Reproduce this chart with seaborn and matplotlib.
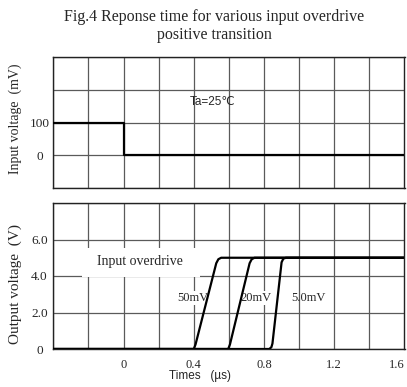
import matplotlib
matplotlib.use("Agg")
import matplotlib.pyplot as plt
from matplotlib.patches import Rectangle
import seaborn as sns
import pandas as pd

# ---- data ----
input_t = [-0.4, 0.0, 0.0, 1.6]
input_mv = [100, 100, 0, 0]

t_50mv = [-0.4, 0.400, 0.410, 0.528, 0.540, 0.556, 0.585, 1.6]
v_50mv = [0.0, 0.0, 0.25, 4.70, 4.92, 5.0, 5.0, 5.0]
t_20mv = [-0.4, 0.596, 0.606, 0.718, 0.730, 0.746, 0.775, 1.6]
v_20mv = [0.0, 0.0, 0.25, 4.70, 4.92, 5.0, 5.0, 5.0]
t_5mv = [-0.4, 0.830, 0.842, 0.848, 0.900, 0.910, 0.925, 0.950, 1.6]
v_5mv = [0.0, 0.0, 0.10, 0.30, 4.75, 4.95, 5.0, 5.0, 5.0]

x_ticks = [0, 0.4, 0.8, 1.2, 1.6]
x_tick_labels = ["0", "0.4", "0.8", "1.2", "1.6"]
x_grid = [-0.4, -0.2, 0, 0.2, 0.4, 0.6, 0.8, 1.0, 1.2, 1.4, 1.6]
in_ticks = [0, 100]
in_tick_labels = ["0", "100"]
in_grid = [-100, 0, 100, 200, 300]
out_ticks = [0, 2, 4, 6]
out_tick_labels = ["0", "2.0", "4.0", "6.0"]
out_grid = [0, 2, 4, 6, 8]

overdrive_labels = ["50mV", "20mV", "5.0mV"]

df_in = pd.DataFrame({"t": input_t, "v": input_mv})
df_out = pd.concat([
    pd.DataFrame({"t": t_50mv, "v": v_50mv, "od": overdrive_labels[0]}),
    pd.DataFrame({"t": t_20mv, "v": v_20mv, "od": overdrive_labels[1]}),
    pd.DataFrame({"t": t_5mv, "v": v_5mv, "od": overdrive_labels[2]}),
], ignore_index=True)

sns.set_theme(style="white")
plt.rcParams["font.family"] = ["Liberation Serif", "DejaVu Serif"]
plt.rcParams["axes.unicode_minus"] = False

W, H = 407, 387
fig = plt.figure(figsize=(W / 100, H / 100), dpi=100)

def frac(l, t, r, b):
    return [l / W, (H - b) / H, (r - l) / W, (b - t) / H]

ax1 = fig.add_axes(frac(53.3, 57, 404.5, 188))
ax2 = fig.add_axes(frac(53.3, 203, 404.5, 349))

grid_color = "#5a5a5a"
for ax, ygrid in ((ax1, in_grid), (ax2, out_grid)):
    for xg in x_grid:
        ax.axvline(xg, color=grid_color, lw=0.9, zorder=0.5)
    for yg in ygrid:
        ax.axhline(yg, color=grid_color, lw=0.9, zorder=0.5)
    ax.set_xlim(-0.4, 1.6)
    for s in ax.spines.values():
        s.set_color("#222222")
        s.set_linewidth(1.0)
        s.set_visible(True)
    ax.tick_params(axis="both", length=0)

# top panel
sns.lineplot(data=df_in, x="t", y="v", ax=ax1, color="black", lw=1.6,
             estimator=None, sort=False, zorder=3)
ax1.set_ylim(-100, 300)
ax1.set_yticks(in_ticks)
ax1.set_yticklabels(in_tick_labels, fontsize=9.5)
ax1.set_xticks(x_ticks)
ax1.set_xticklabels([])
ax1.set_xlabel("")
ax1.set_ylabel("Input voltage  (mV)", fontsize=10)
ax1.yaxis.set_label_coords(-0.089, 0.527)
ax1.text(0.508, 163, "Ta=25\u2103", ha="center", va="center", fontsize=8.5,
         family=["Liberation Sans", "DejaVu Sans"], zorder=4)

# bottom panel
sns.lineplot(data=df_out, x="t", y="v", units="od", ax=ax2, color="black",
             lw=1.6, estimator=None, sort=False, zorder=3, legend=False)
ax2.set_ylim(0, 8)
ax2.set_yticks(out_ticks)
ax2.set_yticklabels(out_tick_labels, fontsize=9.5)
ax2.set_xticks(x_ticks)
ax2.set_xticklabels(x_tick_labels, fontsize=9)
ax2.get_xticklabels()[-1].set_ha("right")
ax2.set_ylabel("Output voltage  (V)", fontsize=11)
ax2.yaxis.set_label_coords(-0.089, 0.445)
ax2.set_xlabel("Times   (\u00b5s)", fontsize=8.5,
               family=["Liberation Sans", "DejaVu Sans"])
ax2.xaxis.set_label_coords(0.418, -0.185)
ax2.xaxis.label.set_va("center")

for ax in (ax1, ax2):
    for lab in ax.get_yticklabels():
        lab.set_ha("center")
    ax.tick_params(axis="y", pad=10)
ax2.tick_params(axis="x", pad=7)

ax2.add_patch(Rectangle((-0.236, 3.96), 0.673, 1.57, facecolor="white",
                        edgecolor="none", zorder=1.5))
ax2.text(0.096, 4.77, "Input overdrive", ha="center", va="center",
         fontsize=10, zorder=4)
ax2.text(0.392, 2.8, overdrive_labels[0], ha="center", va="center",
         fontsize=9, zorder=2.5,
         bbox=dict(boxstyle="square,pad=0.05", fc="white", ec="none"))
ax2.text(0.756, 2.8, overdrive_labels[1], ha="center", va="center",
         fontsize=9, zorder=2.5,
         bbox=dict(boxstyle="square,pad=0.05", fc="white", ec="none"))
ax2.text(1.055, 2.8, overdrive_labels[2], ha="center", va="center",
         fontsize=9, zorder=4)

fig.text(214 / W, 1 - 26 / H, "Fig.4 Reponse time for various input overdrive\npositive transition",
         ha="center", va="center", fontsize=11.5, linespacing=1.15)

fig.savefig("out.png", dpi=100)
